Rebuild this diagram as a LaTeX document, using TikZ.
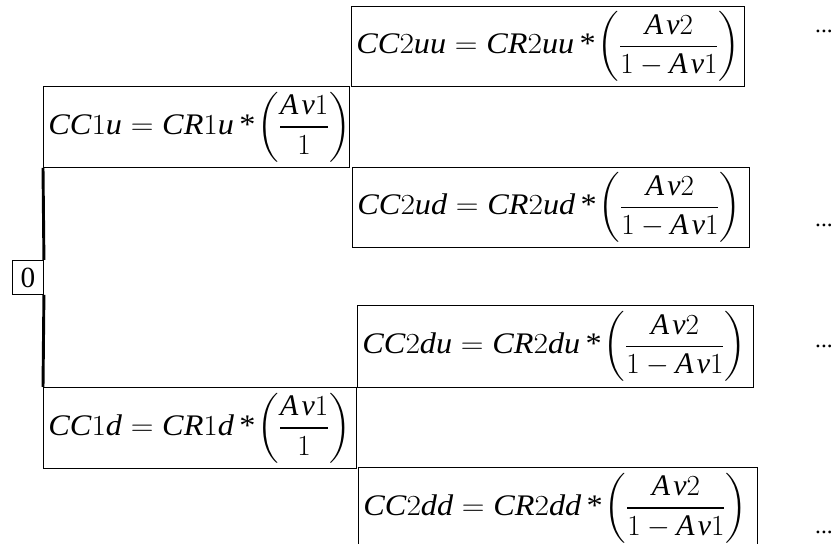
\documentclass[tikz,border=0pt]{standalone}
\usepackage{amsmath}
\usepackage{fontspec}
\setmainfont{Liberation Serif}
\newcommand{\ratio}[2]{\left(\dfrac{#1}{#2}\right)}
\newcommand{\ccval}[1]{\mathit{CC}#1}
\newcommand{\crval}[1]{\mathit{CR}#1}
\newcommand{\av}[1]{\mathit{A}\mkern2mu\mathit{v}#1}
\newcommand{\mult}{\mkern3mu\text{*}\mkern1mu}
\newcommand{\lhs}[1]{\scalebox{1.08}[1]{$#1$}}

\begin{document}
\begin{tikzpicture}[x=0.03cm,y=-0.03cm,
 cell/.style={draw,line width=0.8pt,anchor=north west,inner xsep=0.15cm,inner ysep=0pt,
  align=left,font=\fontsize{25.5}{30}\selectfont},
 more/.style={anchor=base,font=\fontsize{20}{24}\selectfont}]
\useasboundingbox (0,0) rectangle (839,544);
% root
\node[draw,line width=0.8pt,anchor=north west,minimum width=0.93cm,minimum height=1.02cm,
 inner sep=0pt,font=\fontsize{25}{28}\selectfont] (zero) at (12,260) {0};
% first step
\node[cell,text width=8.88cm,minimum height=2.43cm] (cc1u) at (43,86)
 {\lhs{\ccval{1\mathit{u}}=\crval{1\mathit{u}}\mult}$\ratio{\av{1}}{1}$};
\node[cell,text width=9.09cm,minimum height=2.43cm] (cc1d) at (43,387)
 {\lhs{\ccval{1\mathit{d}}=\crval{1\mathit{d}}\mult}$\ratio{\av{1}}{1}$};
% second step
\node[cell,text width=11.49cm,minimum height=2.40cm] (cc2uu) at (351,6)
 {\lhs{\ccval{2\mathit{uu}}=\crval{2\mathit{uu}}\mult}$\ratio{\av{2}}{1-\av{1}}$};
\node[cell,text width=11.61cm,minimum height=2.40cm] (cc2ud) at (352,167)
 {\lhs{\ccval{2\mathit{ud}}=\crval{2\mathit{ud}}\mult}$\ratio{\av{2}}{1-\av{1}}$};
\node[cell,text width=11.58cm,minimum height=2.46cm] (cc2du) at (357,305)
 {\lhs{\ccval{2\mathit{du}}=\crval{2\mathit{du}}\mult}$\ratio{\av{2}}{1-\av{1}}$};
\node[cell,text width=11.67cm,minimum height=2.43cm] (cc2dd) at (358,467)
 {\lhs{\ccval{2\mathit{dd}}=\crval{2\mathit{dd}}\mult}$\ratio{\av{2}}{1-\av{1}}$};
% continuation
\node[more] (moreuu) at (824,33) {...};
\node[more] (moreud) at (824,227) {...};
\node[more] (moredu) at (824,348) {...};
\node[more] (moredd) at (824,533) {...};
% branches
\draw[line width=2.5pt] (cc1u.south west) -- (zero.north east);
\draw[line width=2.5pt] (zero.south east) -- (cc1d.north west);
\end{tikzpicture}
\end{document}
